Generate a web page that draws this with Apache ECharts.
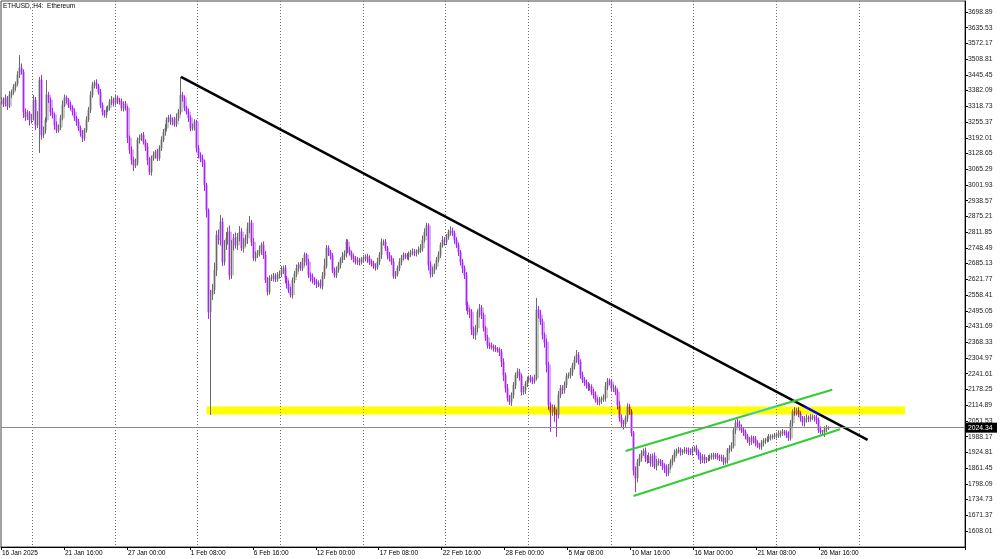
<!DOCTYPE html>
<html>
<head>
<meta charset="utf-8">
<script src="https://cdn.jsdelivr.net/npm/echarts@6/dist/echarts.min.js"></script>
<style>
html,body{margin:0;padding:0;background:#fff;}
#chart{width:1000px;height:559px;}
</style>
</head>
<body>
<div id="chart"></div>
<script>
// ---- data (ETHUSD, H4) ----
const chartTitle = 'ETHUSD, H4:  Ethereum';
const firstOpen = 3340;
const closes = [
3344,3328,3352,3320,3364,3376,3396,3409,3445,3473,
3457,3296,3276,3292,3264,3272,3344,3243,3284,3425,
3203,3223,3264,3364,3344,3296,3284,3243,3223,3235,
3272,3324,3352,3344,3324,3312,3296,3272,3256,3231,
3211,3191,3223,3264,3304,3364,3405,3413,3401,3376,
3324,3296,3284,3304,3312,3336,3344,3332,3352,3340,
3336,3312,3328,3312,3191,3143,3102,3082,3090,3183,
3191,3203,3175,3155,3102,3054,3110,3123,3135,3110,
3151,3183,3215,3231,3264,3272,3256,3264,3247,3272,
3296,3364,3352,3312,3296,3272,3231,3235,3256,3151,
3123,3110,3094,3002,2901,2490,2559,2579,2659,2800,
2780,2853,2692,2760,2788,2812,2639,2760,2788,2760,
2790,2812,2748,2768,2788,2828,2849,2772,2708,2720,
2728,2740,2760,2720,2619,2571,2627,2627,2635,2623,
2639,2643,2659,2667,2627,2603,2579,2559,2619,2643,
2667,2680,2667,2692,2720,2692,2639,2631,2619,2611,
2603,2607,2595,2635,2675,2748,2732,2716,2659,2639,
2659,2680,2700,2716,2724,2772,2740,2728,2712,2704,
2692,2698,2692,2704,2708,2712,2704,2692,2684,2676,
2671,2692,2720,2772,2772,2748,2720,2708,2692,2635,
2643,2667,2692,2708,2720,2716,2712,2724,2728,2732,
2728,2732,2740,2748,2780,2812,2837,2680,2643,2659,
2675,2700,2720,2760,2780,2772,2792,2812,2816,2808,
2780,2760,2732,2692,2667,2639,2518,2498,2490,2418,
2398,2426,2490,2506,2478,2426,2386,2357,2353,2349,
2345,2341,2337,2329,2289,2236,2184,2144,2128,2156,
2196,2236,2249,2232,2168,2176,2200,2216,2224,2220,
2212,2224,2498,2478,2450,2398,2369,2277,2116,2088,
2104,2088,2075,2156,2184,2176,2196,2232,2236,2249,
2273,2297,2317,2289,2236,2216,2208,2196,2184,2188,
2168,2156,2136,2128,2136,2140,2144,2192,2212,2208,
2184,2184,2168,2116,2063,2043,2039,2063,2108,2088,
2003,1854,1822,1886,1902,1922,1930,1902,1894,1906,
1882,1910,1870,1886,1890,1882,1870,1862,1842,1866,
1886,1902,1922,1930,1934,1926,1930,1934,1930,1928,
1926,1938,1942,1926,1910,1894,1906,1894,1898,1902,
1906,1910,1914,1910,1906,1902,1902,1886,1894,1934,
1942,1951,2015,2043,2039,2027,2015,2007,1991,1975,
1967,1983,1979,1963,1955,1947,1963,1971,1975,1979,
1987,1987,1990,1991,1995,1999,2003,2007,2003,1995,
1983,2043,2088,2083,2092,2079,2063,2047,2059,2063,
2059,2067,2067,2063,2055,2015,2007,2007,2019,2023,
2024.34
];
const upWick = [
12,10,14,8,16,10,12,9,15,52,
18,10,14,12,8,16,20,12,15,12,
20,14,10,60,12,10,16,8,14,10,
12,18,14,10,8,12,10,14,8,12,
10,12,8,14,12,16,12,10,14,8,
12,10,8,14,10,12,16,10,14,10,
12,14,10,12,8,10,14,12,18,10,
14,8,12,10,16,12,10,14,8,12,
10,14,12,16,10,12,14,10,12,18,
12,73,12,10,8,12,10,14,10,8,
12,10,14,10,8,6,20,24,30,18,
22,28,16,20,24,18,26,20,16,22,
18,24,16,20,14,22,28,12,16,14,
12,18,10,14,16,12,10,14,12,10,
12,14,16,10,12,8,14,12,10,12,
14,10,12,16,10,8,12,10,14,10,
12,10,14,16,30,12,10,8,12,10,
14,12,10,16,14,12,10,12,8,10,
12,14,10,8,12,10,12,14,10,12,
10,16,12,14,10,12,8,12,10,14,
12,10,14,12,10,8,12,10,12,14,
12,10,14,16,18,15,12,10,14,12,
10,12,14,10,16,12,12,10,20,14,
10,12,10,8,12,10,12,14,10,12,
14,12,10,16,12,10,8,12,10,14,
10,12,8,10,12,14,10,16,12,10,
12,10,14,12,10,16,12,14,10,12,
10,14,49,16,20,12,10,14,12,10,
14,12,10,16,12,10,14,12,10,16,
12,14,20,12,10,14,12,10,12,14,
10,12,14,10,12,10,14,16,12,10,
12,14,10,12,16,14,12,10,14,12,
10,8,14,12,16,12,10,14,12,18,
12,10,14,12,10,8,12,10,14,12,
10,12,14,10,12,10,8,12,10,14,
12,10,8,12,10,14,12,10,8,12,
10,12,10,8,12,10,14,12,10,8,
12,14,10,12,18,14,10,12,10,8,
12,10,8,12,10,8,12,10,8,10,
12,10,8,12,10,14,10,12,8,10,
14,12,10,18,12,14,10,8,12,14,
10,12,10,8,12,10,14,8,10,12,
6
];
const downWick = [
14,12,10,16,8,12,10,14,8,12,
10,24,16,12,22,14,10,20,12,153,
18,12,14,10,12,16,14,18,12,10,
12,10,8,14,12,10,14,12,16,12,
14,16,12,10,8,12,10,14,12,10,
12,14,10,12,8,10,12,14,10,12,
10,12,14,10,20,16,18,24,12,10,
14,12,10,16,20,12,14,10,16,12,
10,12,8,14,12,10,12,14,10,12,
12,10,14,12,10,16,12,10,14,18,
14,16,20,24,30,28,415,20,16,24,
18,22,16,14,20,26,18,16,22,14,
20,16,12,18,14,24,20,16,12,14,
12,14,20,16,12,14,10,12,14,12,
10,14,12,16,20,18,12,10,14,12,
12,14,10,12,16,14,12,18,14,12,
16,12,10,14,12,10,16,14,12,10,
12,10,14,12,16,14,12,10,12,14,
10,12,14,10,12,14,16,12,10,12,
14,10,12,16,14,12,18,14,12,10,
12,10,12,14,10,12,10,14,12,10,
12,14,10,12,14,10,16,22,14,12,
14,12,10,12,10,14,12,10,14,12,
14,12,16,14,20,16,22,18,24,20,
16,20,18,22,16,14,12,14,12,10,
14,12,10,16,20,24,18,14,12,16,
14,16,12,18,14,12,16,12,10,14,
12,10,8,14,12,18,22,30,20,81,
16,40,88,14,12,16,14,12,10,14,
16,14,12,10,14,12,16,14,12,10,
12,14,10,12,14,16,12,14,16,12,
14,16,12,18,14,20,22,14,16,12,
14,22,57,18,16,14,12,16,14,12,
14,16,12,18,14,12,16,20,14,12,
10,12,14,12,10,14,12,10,12,14,
12,14,10,12,14,16,12,14,12,10,
12,10,14,12,10,12,14,12,10,14,
12,14,10,16,12,14,12,16,14,12,
16,12,18,14,12,10,12,14,12,10,
12,14,10,12,10,12,14,12,10,12,
12,10,14,12,10,12,14,16,18,14,
12,10,12,14,16,12,10,14,20,12,
8
];
const xTickLabels = ['16 Jan 2025','21 Jan 16:00','27 Jan 00:00','1 Feb 08:00','6 Feb 16:00','12 Feb 00:00','17 Feb 08:00','22 Feb 16:00','28 Feb 00:00','5 Mar 08:00','10 Mar 16:00','16 Mar 00:00','21 Mar 08:00','26 Mar 16:00'];
const barsPerLabel = 32;
const gridFirstBar = 16, gridEveryBars = 42, gridLastBar = 436;
const slotCount = 490;
const yTickLabels = [3698.89,3635.53,3572.17,3508.81,3445.45,3382.09,3318.73,3255.37,3192.01,3128.65,3065.29,3001.93,2938.57,2875.21,2811.85,2748.49,2685.13,2621.77,2558.41,2495.05,2431.69,2368.33,2304.97,2241.61,2178.25,2114.89,2051.53,1988.17,1924.81,1861.45,1798.09,1734.73,1671.37,1608.01];
const yMin = 1543.6, yMax = 3742.9;
const lastPrice = 2024.34;
const trendLine = [[91, 3437], [440, 1975]];
const channelUpper = [[317, 1930], [422, 2177]];
const channelLower = [[321, 1749], [426, 2018]];
const supportZone = {fromBar: 104, toBar: 459, low: 2077, high: 2110};

// ---- build ----
const categories = [];
for (let i = 0; i < slotCount; i++) categories.push(String(i));
const candles = closes.map((c, i) => {
  const o = i === 0 ? firstOpen : closes[i - 1];
  const h = Math.max(o, c) + (upWick[i] || 0);
  const l = Math.min(o, c) - (downWick[i] || 0);
  return [o, c, l, h];
});
const FONT = 'Liberation Sans';

const chart = echarts.init(document.getElementById('chart'), null, {renderer: 'canvas'});
chart.setOption({
  animation: false,
  backgroundColor: '#ffffff',
  title: {
    text: chartTitle, left: 3, top: 3, padding: 0,
    textStyle: {fontSize: 6.5, fontWeight: 'normal', color: '#000', fontFamily: FONT}
  },
  grid: {
    left: 1, right: 35, top: 1, bottom: 12,
    containLabel: false, outerBoundsMode: 'none',
    show: true, borderColor: '#444', borderWidth: 1
  },
  xAxis: {
    type: 'category', data: categories, boundaryGap: true,
    axisLine: {show: true, lineStyle: {color: '#000', width: 1}},
    axisTick: {show: true, length: 3, lineStyle: {color: '#000'},
      interval: (idx) => idx % barsPerLabel === 0 && idx / barsPerLabel < xTickLabels.length},
    axisLabel: {
      show: true, fontSize: 6.5, color: '#000', fontFamily: FONT, margin: 3, align: 'left',
      interval: (idx) => idx % barsPerLabel === 0 && idx / barsPerLabel < xTickLabels.length,
      formatter: (v) => { const k = +v; return k % barsPerLabel === 0 ? (xTickLabels[k / barsPerLabel] || '') : ''; }
    },
    splitLine: {show: true, lineStyle: {color: '#6e6e6e', type: [1, 2], width: 1},
      interval: (idx) => idx >= gridFirstBar && idx <= gridLastBar && (idx - gridFirstBar) % gridEveryBars === 0}
  },
  yAxis: {
    type: 'value', position: 'right', min: yMin, max: yMax, scale: true,
    axisLine: {show: true, lineStyle: {color: '#000', width: 1}},
    axisTick: {show: true, length: 3, lineStyle: {color: '#000'}, customValues: yTickLabels},
    axisLabel: {show: true, fontSize: 6.8, color: '#222', fontFamily: FONT, margin: 3,
      customValues: yTickLabels, formatter: (v) => v.toFixed(2)},
    splitLine: {show: false}
  },
  series: [
    {
      type: 'candlestick', data: candles, barWidth: 3, z: 1, silent: true,
      itemStyle: {color: '#c9c9c9', borderColor: '#c9c9c9', color0: '#dca6ff', borderColor0: '#dca6ff', borderWidth: 1}
    },
    {
      type: 'candlestick', data: candles, barWidth: 1, z: 2,
      itemStyle: {color: '#555555', borderColor: '#6a6a6a', color0: '#9600ee', borderColor0: '#a526f5', borderWidth: 1},
      markLine: {
        silent: true, symbol: 'none', animation: false,
        lineStyle: {color: '#8a8a8a', width: 1, type: 'solid'},
        label: {show: false},
        data: [{yAxis: lastPrice}]
      }
    },
    {type: 'line', data: trendLine, symbol: 'none', z: 4, lineStyle: {color: '#000', width: 2.5}},
    {type: 'line', data: channelUpper, symbol: 'none', z: 4, lineStyle: {color: '#33cc33', width: 2}},
    {type: 'line', data: channelLower, symbol: 'none', z: 4, lineStyle: {color: '#33cc33', width: 2}}
  ]
});

// support zone drawn as a difference-blended rectangle, positioned through the chart's own scales
const zr = chart.getZr();
const p0 = chart.convertToPixel({xAxisIndex: 0, yAxisIndex: 0}, [supportZone.fromBar, supportZone.high]);
const p1 = chart.convertToPixel({xAxisIndex: 0, yAxisIndex: 0}, [supportZone.toBar, supportZone.low]);
const band = new echarts.graphic.Rect({
  shape: {x: p0[0], y: p0[1], width: p1[0] - p0[0], height: p1[1] - p0[1]},
  style: {fill: '#0000ff', blend: 'difference'},
  z: 100, zlevel: 0, silent: true
});
zr.add(band);

// last-price tag on the price scale
const pp = chart.convertToPixel({xAxisIndex: 0, yAxisIndex: 0}, [0, lastPrice]);
const step = chart.convertToPixel({xAxisIndex: 0}, 1) - chart.convertToPixel({xAxisIndex: 0}, 0);
const gridRight = chart.convertToPixel({xAxisIndex: 0}, slotCount - 1) + step / 2;
const tag = new echarts.graphic.Group({z: 101});
tag.add(new echarts.graphic.Rect({shape: {x: gridRight + 1, y: pp[1] - 5, width: 31, height: 10}, style: {fill: '#000'}, z: 101}));
tag.add(new echarts.graphic.Text({style: {text: lastPrice.toFixed(2), x: gridRight + 3, y: pp[1], fill: '#fff', fontSize: 6.8, fontFamily: FONT, verticalAlign: 'middle'}, z: 102}));
zr.add(tag);
</script>
</body>
</html>
